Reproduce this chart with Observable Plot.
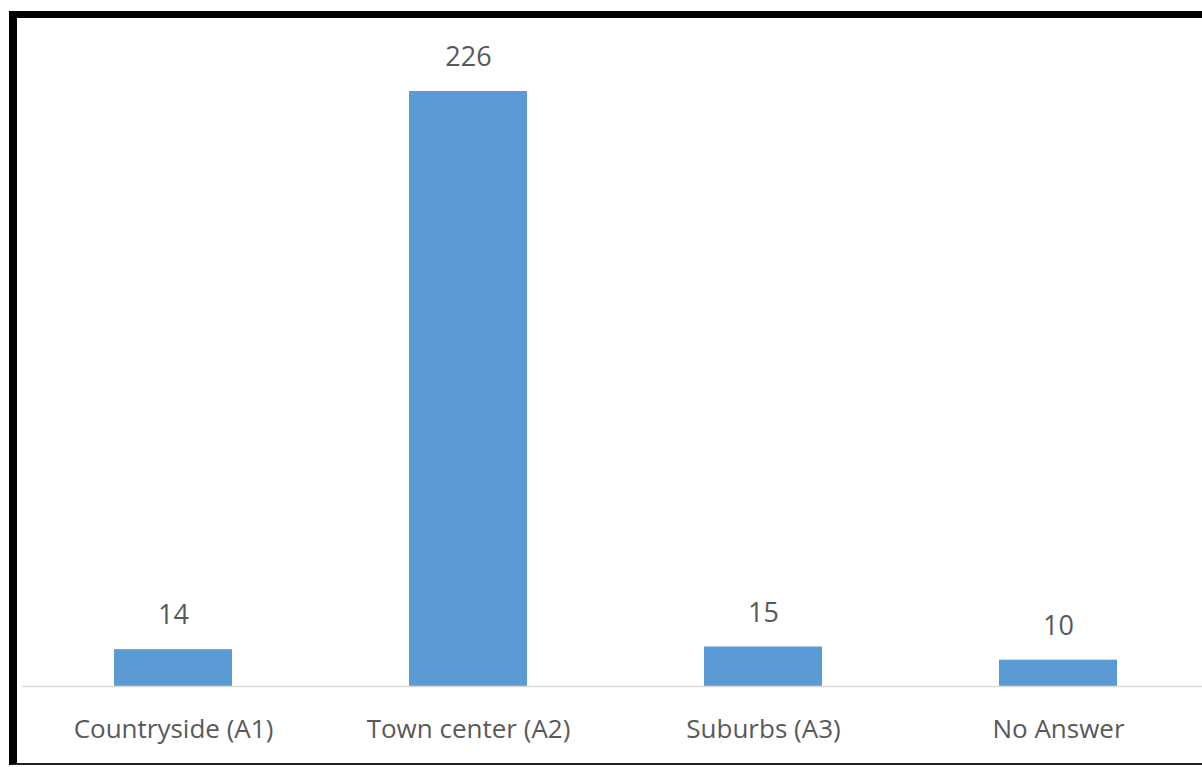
<!DOCTYPE html>
<html>
<head>
<meta charset="utf-8">
<script src="https://cdn.jsdelivr.net/npm/d3@7"></script>
<script src="https://cdn.jsdelivr.net/npm/@observablehq/plot@0.6"></script>
<style>
  html, body { margin: 0; padding: 0; background: #fff; overflow: hidden; }
  #wrap { position: relative; width: 1202px; height: 767px; overflow: hidden; }
  #frame { position: absolute; left: 9px; top: 11px; width: 1220px; height: 754px;
           border-left: 8px solid #000; border-top: 7px solid #000; border-bottom: 2px solid #222;
           box-sizing: border-box; pointer-events: none; }
  #chart { position: absolute; left: 0; top: 0; }
</style>
</head>
<body>
<div id="wrap">
  <div id="chart"></div>
  <div id="frame"></div>
</div>
<script>
const categories = ["Countryside (A1)", "Town center (A2)", "Suburbs (A3)", "No Answer"];
const counts = [14, 226, 15, 10];

const data = categories.map((c, i) => ({category: c, count: counts[i]}));

const chart = Plot.plot({
  width: 1202,
  height: 767,
  marginLeft: 22,
  marginRight: 0,
  marginTop: 91,
  marginBottom: 81,
  style: {fontFamily: "'Open Sans', sans-serif", background: "transparent"},
  x: {domain: categories, range: [24, 1206], paddingInner: 0.6, paddingOuter: 0.3, label: null},
  y: {domain: [0, 226], axis: null},
  marks: [
    Plot.barY(data, {x: "category", y: "count", fill: "#5b9bd5"}),
    Plot.ruleY([0], {stroke: "#d9d9d9", strokeWidth: 1.5}),
    Plot.text(data, {x: "category", y: "count", text: d => String(d.count), dy: -34,
      fontSize: 27, fill: "#595959"}),
    Plot.axisX({tickSize: 0, tickPadding: 33, fontSize: 26, color: "#595959", label: null})
  ]
});
document.getElementById("chart").appendChild(chart);
</script>
</body>
</html>
